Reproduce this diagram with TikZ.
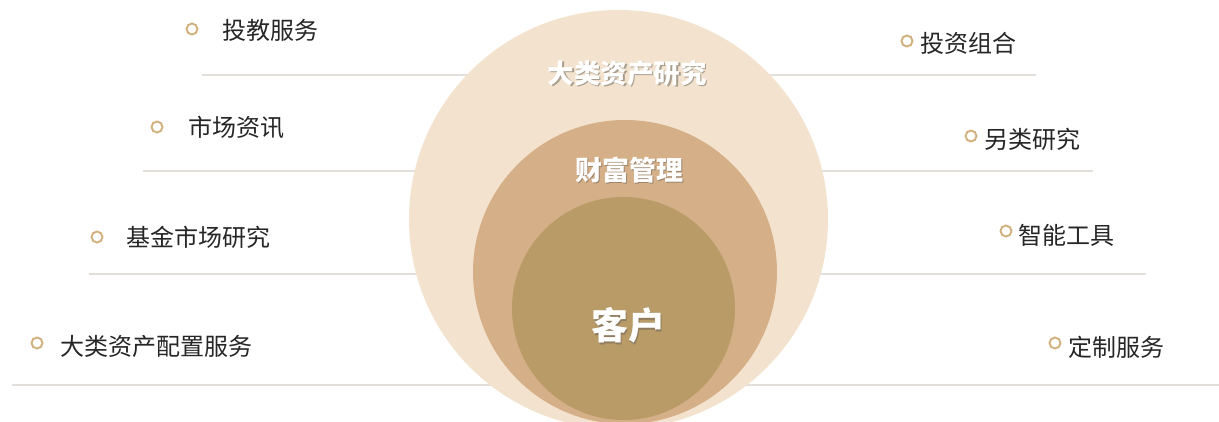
\documentclass[tikz,border=0pt]{standalone}
\usepackage{fontspec}
\setmainfont{Noto Sans CJK SC}
\definecolor{outerc}{HTML}{F3E3CE}
\definecolor{midc}{HTML}{D5AF87}
\definecolor{innerc}{HTML}{B99B67}
\definecolor{linec}{HTML}{E2DFDA}
\definecolor{bulc}{HTML}{D2B07E}
\definecolor{txtc}{HTML}{262626}
\definecolor{shadc}{HTML}{6E6458}
\tikzset{
  sepline/.style={draw=linec, line width=2.6pt},
  bul/.style={circle, draw=bulc, line width=1.9pt, minimum size=11pt, inner sep=0pt, fill=white},
  item/.style={anchor=west, inner sep=0pt, text=txtc, font=\fontsize{24}{26}\selectfont},
  ctext/.style={inner sep=0pt, text=white, font=\bfseries\fontsize{#1}{#1}\selectfont},
  cshadow/.style={inner sep=0pt, text=shadc, opacity=0.55, font=\bfseries\fontsize{#1}{#1}\selectfont},
}
\begin{document}
\begin{tikzpicture}[x=1pt,y=-1pt]
\useasboundingbox (0,0) rectangle (1219,421);
\clip (0,0) rectangle (1219,421);
\fill[white] (0,0) rectangle (1219,421);
% separator lines
\coordinate (l1a) at (202,75);  \coordinate (l1b) at (1036,75);
\coordinate (l2a) at (143,171); \coordinate (l2b) at (1093,171);
\coordinate (l3a) at (89,274);  \coordinate (l3b) at (1146,274);
\coordinate (l4a) at (12,385);  \coordinate (l4b) at (1219,385);
\draw[sepline] (l1a) -- (l1b);
\draw[sepline] (l2a) -- (l2b);
\draw[sepline] (l3a) -- (l3b);
\draw[sepline] (l4a) -- (l4b);
% circles
\node[circle, fill=outerc, minimum size=419pt, inner sep=0pt] (outer) at (618.5,219.5) {};
\node[circle, fill=midc, minimum size=304pt, inner sep=0pt] (mid) at (625,272) {};
\node[circle, fill=innerc, minimum size=223pt, inner sep=0pt] (inner) at (623.5,308.5) {};
% circle labels
\node[cshadow=26.5] at (628.5,74.5) {大类资产研究};
\node[ctext=26.5] (t1) at (627,73) {大类资产研究};
\node[cshadow=27] at (630.5,171.5) {财富管理};
\node[ctext=27] (t2) at (629,170) {财富管理};
\node[cshadow=37] at (629.8,327) {客户};
\node[ctext=37] (t3) at (628,325) {客户};
% left items
\node[bul] (b1) at (192,29) {};
\node[item] (i1) at (222,30) {投教服务};
\node[bul] (b2) at (157,127) {};
\node[item] (i2) at (188,127) {市场资讯};
\node[bul] (b3) at (97,237) {};
\node[item] (i3) at (126,237) {基金市场研究};
\node[bul] (b4) at (37,343) {};
\node[item] (i4) at (60,346) {大类资产配置服务};
% right items
\node[bul] (b5) at (907,41) {};
\node[item] (i5) at (920,43) {投资组合};
\node[bul] (b6) at (971,136) {};
\node[item] (i6) at (984,139) {另类研究};
\node[bul] (b7) at (1006,231) {};
\node[item] (i7) at (1018,235) {智能工具};
\node[bul] (b8) at (1055,343) {};
\node[item] (i8) at (1068,347) {定制服务};
\end{tikzpicture}
\end{document}
